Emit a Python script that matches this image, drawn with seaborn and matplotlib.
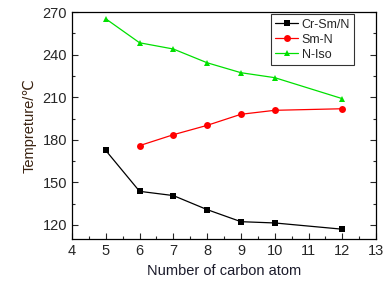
import matplotlib
matplotlib.use("Agg")
import matplotlib.pyplot as plt
import seaborn as sns
import pandas as pd
import numpy as np
from matplotlib.ticker import MultipleLocator

# values
carbon = [5, 6, 7, 8, 9, 10, 12]
cr_sm_n = [172.5, 143.7, 140.7, 130.8, 122.3, 121.4, 117.0]
sm_n = [np.nan, 175.9, 183.6, 190.2, 198.0, 200.8, 201.9]
n_iso = [265.3, 248.4, 244.0, 234.3, 227.3, 223.8, 209.0]

series = ["Cr-Sm/N", "Sm-N", "N-Iso"]
colors = ["black", "red", "#00e000"]
markers = ["s", "o", "^"]

df = pd.DataFrame({"carbon": carbon, "Cr-Sm/N": cr_sm_n, "Sm-N": sm_n, "N-Iso": n_iso})
long = df.melt(id_vars="carbon", var_name="series", value_name="temp").dropna()

sns.set_style("ticks")
plt.rcParams["font.family"] = ["Liberation Sans", "DejaVu Sans"]

fig = plt.figure(figsize=(3.89, 2.82), dpi=100)
ax = fig.add_axes([0.185, 0.152, 0.782, 0.805])

sns.lineplot(data=long, x="carbon", y="temp", hue="series", style="series",
             hue_order=series, style_order=series, palette=colors,
             markers=dict(zip(series, markers)), dashes=False,
             linewidth=0.9, markersize=5, markeredgewidth=0, ax=ax)

ax.set_xlim(4, 13)
ax.set_ylim(110, 270)
ax.xaxis.set_major_locator(MultipleLocator(1))
ax.xaxis.set_minor_locator(MultipleLocator(0.5))
ax.yaxis.set_major_locator(MultipleLocator(30))
ax.yaxis.set_minor_locator(MultipleLocator(15))
ax.tick_params(which="both", direction="in", right=True, top=False, labelsize=10.5, width=0.8)
ax.tick_params(which="major", length=4)
ax.tick_params(which="minor", length=2)
for s in ax.spines.values():
    s.set_linewidth(0.9)
    s.set_color("black")

ax.set_xlabel("Number of carbon atom", fontsize=10.5, color="#1a1a2a")
ax.set_ylabel("Tempreture/\u2103", fontsize=10.5, color="#3a2210")

leg = ax.legend(loc="upper right", bbox_to_anchor=(0.928, 0.991), borderaxespad=0,
                fontsize=9, frameon=True, fancybox=False,
                edgecolor="black", handlelength=1.8, borderpad=0.35,
                labelspacing=0.25, handletextpad=0.3)
leg.get_frame().set_linewidth(0.8)

fig.savefig("out.png", dpi=100)
